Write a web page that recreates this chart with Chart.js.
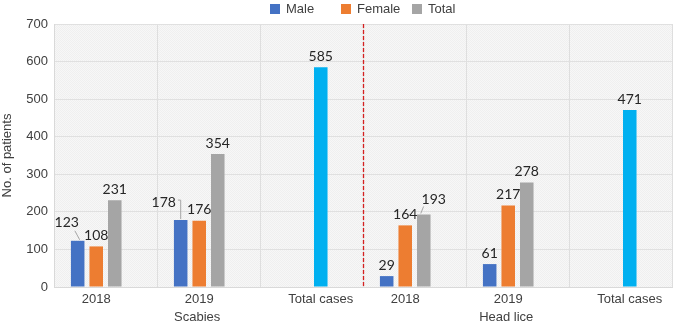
<!DOCTYPE html>
<html><head><meta charset="utf-8">
<script src="https://cdn.jsdelivr.net/npm/chart.js@4"></script>
<style>html,body{margin:0;padding:0;background:#fff}#wrap{width:676px;height:323px}</style>
</head><body><div id="wrap"><canvas id="c" width="676" height="323"></canvas></div>
<script>
const categories = ['2018', '2019', 'Total cases', '2018', '2019', 'Total cases'];
const groups = ['Scabies', 'Head lice'];
const maleValues = [123, 178, null, 29, 61, null];
const femaleValues = [108, 176, null, 164, 217, null];
const totalValues = [231, 354, 585, 193, 278, 471];
const spacerValues = [null, null, null, null, null, null];
const seriesNames = ['Male', 'Female', 'Total'];

const colMale = '#4472C4', colFemale = '#ED7D31', colTotal = '#A5A5A5', colCases = '#00B0F0';
const totalColors = categories.map(c => c === 'Total cases' ? colCases : colTotal);

// label offset styles (dataset-index): dx, dy, leader line
const labelStyles = {
  '0-0': {dx: -11, dy: -7, leader: 'diag'},
  '0-1': {dx: -17, dy: -7, leader: 'elbow'},
  '2-3': {dx: 10, dy: -4, leader: 'diag'}
};

const axisFont = '13px "Liberation Sans", Arial, sans-serif';
const axisColor = '#404040';

const bgPlugin = {
  id: 'bg',
  beforeDraw(chart) {
    const {ctx, chartArea: a} = chart;
    const pc = document.createElement('canvas');
    pc.width = 2; pc.height = 2;
    const p = pc.getContext('2d');
    p.fillStyle = '#f7f7f7'; p.fillRect(0, 0, 2, 2);
    p.fillStyle = '#efefef'; p.fillRect(0, 0, 1, 1); p.fillRect(1, 1, 1, 1);
    ctx.save();
    ctx.fillStyle = ctx.createPattern(pc, 'repeat');
    ctx.fillRect(a.left, a.top, a.right - a.left, a.bottom - a.top);
    ctx.restore();
  }
};

const overlayPlugin = {
  id: 'overlay',
  afterDatasetsDraw(chart) {
    const {ctx, chartArea: a} = chart;
    const xs = chart.scales.x;
    // red dashed separator between the two groups
    const sepX = Math.round((xs.getPixelForValue(2) + xs.getPixelForValue(3)) / 2) + 0.5;
    ctx.save();
    ctx.strokeStyle = '#D42020';
    ctx.lineWidth = 1.3;
    ctx.setLineDash([4, 2]);
    ctx.beginPath(); ctx.moveTo(sepX, a.top); ctx.lineTo(sepX, a.bottom); ctx.stroke();
    ctx.restore();

    // value labels
    ctx.save();
    ctx.font = '14px Lato, "Noto Sans", sans-serif';
    ctx.fillStyle = '#262626';
    ctx.textAlign = 'center';
    ctx.textBaseline = 'middle';
    chart.data.datasets.forEach((ds, di) => {
      const meta = chart.getDatasetMeta(di);
      ds.data.forEach((v, i) => {
        if (v == null) return;
        const bar = meta.data[i];
        const st = labelStyles[di + '-' + i] || {dx: 0, dy: 0};
        const lx = bar.x + st.dx, ly = bar.y - 11 + st.dy;
        const txt = String(v);
        ctx.fillText(txt, lx, ly);
        if (st.leader) {
          const w = ctx.measureText(txt).width;
          ctx.save();
          ctx.strokeStyle = '#a6a6a6';
          ctx.lineWidth = 1;
          ctx.beginPath();
          if (st.leader === 'elbow') {
            ctx.moveTo(lx + w / 2 + 2, ly - 2);
            ctx.lineTo(bar.x, ly - 2);
            ctx.lineTo(bar.x, bar.y - 1);
          } else if (st.dx < 0) {
            ctx.moveTo(lx + w / 2 - 4, ly + 8);
            ctx.lineTo(bar.x + 2, bar.y - 1);
          } else {
            ctx.moveTo(lx - w / 2 + 2, ly + 7);
            ctx.lineTo(bar.x - 3, bar.y - 1);
          }
          ctx.stroke();
          ctx.restore();
        }
      });
    });
    ctx.restore();

    // category labels centered under their bars, group labels below
    ctx.save();
    ctx.font = axisFont;
    ctx.fillStyle = axisColor;
    ctx.textAlign = 'center';
    ctx.textBaseline = 'middle';
    const catX = categories.map((c, i) => {
      let s = 0, n = 0;
      chart.data.datasets.forEach((ds, di) => {
        if (ds.data[i] != null) { s += chart.getDatasetMeta(di).data[i].x; n++; }
      });
      return n ? s / n : xs.getPixelForValue(i);
    });
    categories.forEach((c, i) => ctx.fillText(c, catX[i], a.bottom + 12));
    groups.forEach((g, gi) => ctx.fillText(g, catX[gi * 3 + 1] - 2, a.bottom + 30));
    ctx.restore();

    // legend
    ctx.save();
    ctx.font = axisFont;
    ctx.fillStyle = axisColor;
    ctx.textBaseline = 'middle';
    const legendX = [270, 341, 412];
    seriesNames.forEach((name, k) => {
      ctx.fillStyle = [colMale, colFemale, colTotal][k];
      ctx.fillRect(legendX[k], 4, 10, 10);
      ctx.fillStyle = axisColor;
      ctx.fillText(name, legendX[k] + 16, 9);
    });
    ctx.restore();
  }
};

new Chart(document.getElementById('c'), {
  type: 'bar',
  data: {
    labels: categories,
    datasets: [
      {label: seriesNames[0], data: maleValues, backgroundColor: colMale},
      {label: seriesNames[1], data: femaleValues, backgroundColor: colFemale},
      {label: seriesNames[2], data: totalValues, backgroundColor: totalColors},
      {label: 'spacer', data: spacerValues, backgroundColor: 'rgba(0,0,0,0)'}
    ]
  },
  options: {
    responsive: false,
    animation: false,
    devicePixelRatio: 1,
    categoryPercentage: 0.72,
    barPercentage: 0.73,
    layout: {padding: {top: 24, right: 4, left: 0, bottom: 0}},
    plugins: {legend: {display: false}, tooltip: {enabled: false}},
    scales: {
      x: {
        grid: {color: '#dedede', offset: true, drawTicks: false},
        border: {color: '#d9d9d9'},
        ticks: {display: false},
        afterFit(s) { s.height = 36; }
      },
      y: {
        min: 0, max: 700,
        ticks: {stepSize: 100, font: {family: '"Liberation Sans", Arial, sans-serif', size: 13}, color: axisColor, padding: 6},
        grid: {color: '#e0e0e0', drawTicks: false},
        border: {color: '#d9d9d9'},
        title: {display: true, text: 'No. of patients', font: {family: '"Liberation Sans", Arial, sans-serif', size: 13}, color: axisColor, padding: {top: 0, bottom: 0}},
        afterFit(s) { s.width = 54; }
      }
    }
  },
  plugins: [bgPlugin, overlayPlugin]
});
</script></body></html>
